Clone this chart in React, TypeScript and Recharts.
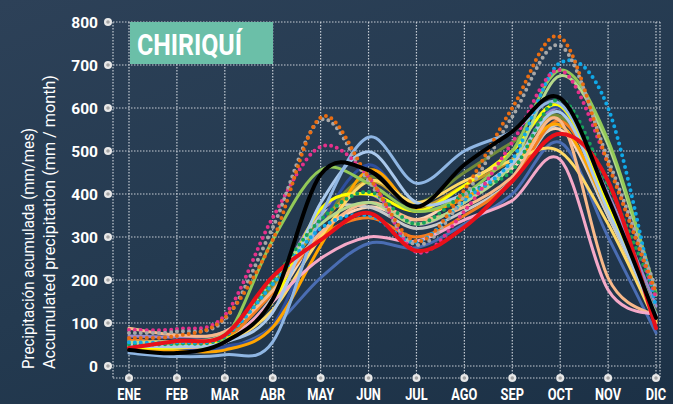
import React from "react";
import { LineChart, Line, XAxis, YAxis, CartesianGrid } from "recharts";

const MONTHS = ["ENE", "FEB", "MAR", "ABR", "MAY", "JUN", "JUL", "AGO", "SEP", "OCT", "NOV", "DIC"];
const Y_TICKS = [0, 100, 200, 300, 400, 500, 600, 700, 800];

// solid series
const S_LIGHTBLUE_A = [30, 22, 26, 56, 347, 532, 425, 500, 545, 610, 390, 120];
const S_LIGHTBLUE_B = [48, 45, 55, 125, 379, 498, 380, 400, 470, 590, 360, 110];
const S_GREEN = [45, 50, 65, 293, 456, 425, 360, 400, 500, 688, 525, 170];
const S_LIGHTGREEN = [55, 58, 75, 200, 330, 380, 330, 380, 470, 675, 515, 165];
const S_PINK = [50, 45, 55, 150, 250, 300, 290, 340, 385, 480, 177, 118];
const S_PEACH = [88, 72, 80, 175, 310, 380, 340, 370, 440, 570, 205, 116];
const S_YELLOW = [45, 42, 60, 150, 365, 400, 360, 420, 500, 605, 370, 110];
const S_LIGHTYELLOW = [50, 48, 55, 130, 300, 430, 380, 430, 478, 498, 330, 100];
const S_MEDBLUE = [35, 32, 40, 90, 205, 285, 275, 330, 400, 520, 300, 77];
const S_NAVY = [40, 38, 45, 95, 330, 468, 360, 420, 500, 600, 370, 100];
const S_ORANGE = [38, 35, 37, 90, 280, 455, 365, 390, 470, 560, 360, 105];
const S_DARKORANGE = [60, 55, 65, 170, 300, 345, 300, 350, 430, 570, 380, 110];
const S_GREY = [45, 45, 55, 160, 350, 370, 320, 360, 430, 560, 350, 120];
const S_LAVENDER = [70, 68, 80, 180, 360, 400, 330, 380, 470, 600, 400, 140];
const S_OLIVE = [55, 52, 70, 190, 340, 440, 380, 450, 520, 580, 380, 125];
const S_GOLD = [50, 48, 60, 180, 330, 430, 370, 420, 480, 580, 380, 120];
const S_LIGHTPEACH = [60, 55, 65, 150, 310, 370, 340, 400, 460, 550, 350, 110];
// dotted series
const D_ORANGE = [65, 70, 112, 293, 578, 440, 290, 410, 600, 765, 470, 170];
const D_GREY = [77, 80, 108, 322, 572, 430, 282, 395, 580, 745, 480, 180];
const D_PINK = [84, 86, 118, 345, 510, 440, 265, 360, 520, 688, 470, 160];
const D_BLUE = [55, 55, 70, 190, 320, 350, 288, 385, 480, 705, 600, 137];
const D_GREEN = [50, 52, 68, 200, 340, 405, 330, 400, 455, 620, 420, 165];
// highlighted series
const S_RED = [42, 58, 72, 208, 293, 356, 268, 323, 430, 540, 430, 88];
const S_BLACK = [37, 30, 56, 155, 445, 455, 370, 468, 545, 623, 390, 112];

type Serie = { key: string; values: number[]; color: string; width: number; dotted?: boolean };

const SERIES: Serie[] = [
  { key: "lightpeach", values: S_LIGHTPEACH, color: "#fbd4b4", width: 3 },
  { key: "grey", values: S_GREY, color: "#c9c9c9", width: 3 },
  { key: "lavender", values: S_LAVENDER, color: "#9b87c9", width: 3 },
  { key: "gold", values: S_GOLD, color: "#c49a2c", width: 3 },
  { key: "olive", values: S_OLIVE, color: "#6f8a3a", width: 3 },
  { key: "darkorange", values: S_DARKORANGE, color: "#f47d20", width: 3 },
  { key: "medblue", values: S_MEDBLUE, color: "#4a6db3", width: 3 },
  { key: "navy", values: S_NAVY, color: "#2e4f9e", width: 3 },
  { key: "orange", values: S_ORANGE, color: "#ffa400", width: 3 },
  { key: "yellow", values: S_YELLOW, color: "#ffff00", width: 3 },
  { key: "lightyellow", values: S_LIGHTYELLOW, color: "#ffd966", width: 3 },
  { key: "peach", values: S_PEACH, color: "#f9b98a", width: 3 },
  { key: "pink", values: S_PINK, color: "#f5a9c8", width: 3 },
  { key: "lightgreen", values: S_LIGHTGREEN, color: "#b5d88c", width: 3 },
  { key: "green", values: S_GREEN, color: "#92c958", width: 3 },
  { key: "lightblueB", values: S_LIGHTBLUE_B, color: "#a9c8ec", width: 3 },
  { key: "lightblueA", values: S_LIGHTBLUE_A, color: "#8fb6e3", width: 3 },
  { key: "dgreen", values: D_GREEN, color: "#16a35a", width: 4, dotted: true },
  { key: "dblue", values: D_BLUE, color: "#10a8e8", width: 4, dotted: true },
  { key: "dpink", values: D_PINK, color: "#e5318b", width: 4, dotted: true },
  { key: "dgrey", values: D_GREY, color: "#a8a8a8", width: 4, dotted: true },
  { key: "dorange", values: D_ORANGE, color: "#e96d12", width: 4, dotted: true },
  { key: "red", values: S_RED, color: "#e8101a", width: 4 },
  { key: "black", values: S_BLACK, color: "#000000", width: 4 },
];

const data = MONTHS.map((m, i) => {
  const row: Record<string, any> = { month: m };
  SERIES.forEach((s) => {
    row[s.key] = s.values[i];
  });
  return row;
});

// Excel-like (Catmull-Rom) smoothing
const excelCurve = (context: any) => {
  let pts: number[][] = [];
  return {
    areaStart() {},
    areaEnd() {},
    lineStart() {
      pts = [];
    },
    point(x: number, y: number) {
      pts.push([+x, +y]);
    },
    lineEnd() {
      const n = pts.length;
      if (!n) return;
      context.moveTo(pts[0][0], pts[0][1]);
      for (let i = 0; i < n - 1; i++) {
        const p0 = pts[Math.max(0, i - 1)];
        const p1 = pts[i];
        const p2 = pts[i + 1];
        const p3 = pts[Math.min(n - 1, i + 2)];
        context.bezierCurveTo(
          p1[0] + (p2[0] - p0[0]) / 6,
          p1[1] + (p2[1] - p0[1]) / 6,
          p2[0] - (p3[0] - p1[0]) / 6,
          p2[1] - (p3[1] - p1[1]) / 6,
          p2[0],
          p2[1]
        );
      }
    },
  };
};

const YTick = (props: any) => {
  const { x, y, payload } = props;
  return (
    <g>
      <circle cx={x - 5} cy={y} r={4} fill="#e8e8e8" />
      <circle cx={x - 5} cy={y} r={1.8} fill="#a5a5a5" />
      <text x={x - 15} y={y} dy="0.36em" textAnchor="end" fill="#ffffff" fontFamily="Roboto" fontWeight={700} fontSize={15.5}>
        {payload.value}
      </text>
    </g>
  );
};

const XTick = (props: any) => {
  const { x, y, payload } = props;
  return (
    <g>
      <circle cx={x} cy={y} r={4} fill="#e8e8e8" />
      <circle cx={x} cy={y} r={1.8} fill="#a5a5a5" />
      <g transform={`translate(${x},${y + 22}) scale(0.8,1)`}>
        <text x={0} y={0} textAnchor="middle" fill="#ffffff" fontFamily="Roboto" fontWeight={700} fontSize={16}>
          {payload.value}
        </text>
      </g>
    </g>
  );
};

export default function App() {
  return (
    <div
      style={{
        position: "absolute",
        left: 0,
        top: 0,
        width: 673,
        height: 404,
        background: "linear-gradient(160deg, #2d4158 0%, #243a50 50%, #1c3146 100%)",
      }}
    >
      <LineChart width={673} height={404} data={data} margin={{ top: 22, right: 13, bottom: 0, left: 53 }}>
        <CartesianGrid stroke="#c5ccd4" strokeDasharray="1.5 1.5" strokeWidth={1.2} />
        <XAxis
          dataKey="month"
          axisLine={false}
          tickLine={false}
          tickSize={0}
          tickMargin={0}
          height={26}
          padding={{ left: 16, right: 4 }}
          tick={<XTick />}
          interval={0}
        />
        <YAxis
          domain={[0, 800]}
          ticks={Y_TICKS}
          axisLine={false}
          tickLine={false}
          tickSize={0}
          tickMargin={0}
          width={60}
          padding={{ bottom: 12 }}
          tick={<YTick />}
          interval={0}
        />
        {SERIES.map((s) => (
          <Line
            key={s.key}
            dataKey={s.key}
            type={excelCurve as any}
            stroke={s.color}
            strokeWidth={s.width}
            strokeDasharray={s.dotted ? "0 6" : undefined}
            strokeLinecap="round"
            dot={false}
            activeDot={false}
            isAnimationActive={false}
          />
        ))}
      </LineChart>
      <svg width={673} height={404} style={{ position: "absolute", left: 0, top: 0, pointerEvents: "none" }}>
        <rect x={130} y={22} width={143} height={42} fill="#6bbfa8" />
        <text x={137} y={55} fill="#ffffff" fontFamily="Roboto" fontWeight={700} fontSize={30} textLength={105} lengthAdjust="spacingAndGlyphs">
          CHIRIQUÍ
        </text>
        <text
          transform="translate(34,369) rotate(-90)"
          fill="#ffffff"
          fontFamily="Roboto"
          fontSize={16}
          textLength={241}
          lengthAdjust="spacingAndGlyphs"
        >
          Precipitación  acumulada (mm/mes)
        </text>
        <text
          transform="translate(55,369) rotate(-90)"
          fill="#ffffff"
          fontFamily="Roboto"
          fontSize={16}
          textLength={294}
          lengthAdjust="spacingAndGlyphs"
        >
          Accumulated precipitation (mm / month)
        </text>
      </svg>
    </div>
  );
}
